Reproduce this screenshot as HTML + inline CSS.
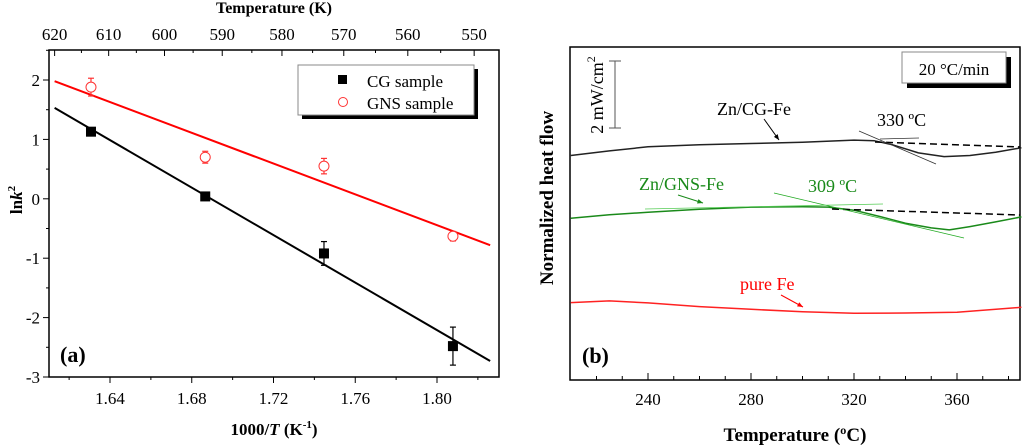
<!DOCTYPE html>
<html><head><meta charset="utf-8"><style>
body{margin:0;background:#fff;}
svg{display:block;font-family:"Liberation Serif",serif;}
</style></head><body>
<svg id="s" width="1024" height="445" viewBox="0 0 1024 445" xmlns="http://www.w3.org/2000/svg">
<g id="L"></g>
<g id="R"></g>
</svg>
<script>
// Panel (a) data
const xA = [1.6307, 1.6866, 1.7447, 1.8078];
const cgVals = [1.13, 0.04, -0.92, -2.48];
const cgErr = [0.06, 0.05, 0.2, 0.32];
const gnsVals = [1.88, 0.70, 0.55, -0.63];
const gnsErr = [0.15, 0.1, 0.13, 0.08];
const cgFitX = [1.6129, 1.826];
const cgFitY = [1.53, -2.73];
const gnsFitX = [1.6129, 1.826];
const gnsFitY = [1.98, -0.78];
const xTicksA = [1.64, 1.68, 1.72, 1.76, 1.80];
const yTicksA = [2, 1, 0, -1, -2, -3];
const topTicksK = [620, 610, 600, 590, 580, 570, 560, 550];
// Panel (b) data
const tempTicks = [240, 280, 320, 360];
const cgT = [210, 225, 240, 260, 280, 300, 320, 328, 335, 345, 355, 365, 375, 385];
const cgHF = [6.70, 6.84, 6.96, 7.02, 7.06, 7.10, 7.16, 7.14, 7.02, 6.78, 6.67, 6.70, 6.80, 6.93];
const gnsT = [210, 225, 240, 260, 280, 300, 310, 320, 330, 340, 350, 357, 365, 375, 385];
const gnsHF = [4.83, 4.93, 5.01, 5.10, 5.16, 5.17, 5.16, 5.07, 4.88, 4.68, 4.54, 4.48, 4.58, 4.72, 4.87];
const feT = [210, 225, 240, 260, 280, 300, 320, 340, 360, 385];
const feHF = [2.31, 2.36, 2.30, 2.19, 2.11, 2.04, 1.99, 2.00, 2.02, 2.17];

const NS = "http://www.w3.org/2000/svg";
function mk(parent, tag, attrs, text){
  const e = document.createElementNS(NS, tag);
  for (const k in attrs) e.setAttribute(k, attrs[k]);
  if (text !== undefined) e.textContent = text;
  parent.appendChild(e);
  return e;
}
const L = document.getElementById('L'), R = document.getElementById('R');

// ---------- panel a ----------
const ax = v => 110 + (v - 1.64) * 2043.75;
const ay = v => 80 + (2 - v) * 59.4;
let f = mk(L,'rect',{x:49,y:50,width:450,height:327,fill:'none',stroke:'#000','stroke-width':1.5});
 
for (let v = 1.62; v <= 1.8301; v += 0.02) {
  const major = xTicksA.some(t => Math.abs(t - v) < 1e-6);
  mk(L,'line',{x1:ax(v),x2:ax(v),y1:377,y2:377+(major?6:3),stroke:'#000','stroke-width':1});
}
xTicksA.forEach(t => {
  const e = mk(L,'text',{x:ax(t),y:404,'text-anchor':'middle','font-size':17}, t.toFixed(2));
   
});
for (let v = 2.5; v >= -3; v -= 0.5) {
  const major = Math.abs(v - Math.round(v)) < 1e-6;
  mk(L,'line',{x1:49,x2:49-(major?6:3),y1:ay(v),y2:ay(v),stroke:'#000','stroke-width':1});
}
yTicksA.forEach(t => {
  const e = mk(L,'text',{x:40,y:ay(t)+6,'text-anchor':'end','font-size':17}, String(t));
   
});
for (let k = 620; k >= 550; k -= 5) {
  const major = k % 10 === 0;
  const x = ax(1000 / k);
  mk(L,'line',{x1:x,x2:x,y1:50,y2:50+(major?6:3),stroke:'#000','stroke-width':1});
}
topTicksK.forEach(k => {
  const e = mk(L,'text',{x:ax(1000/k),y:40,'text-anchor':'middle','font-size':17}, String(k));
   
});
let t1 = mk(L,'text',{x:274,y:13,'text-anchor':'middle','font-size':16,'font-weight':'bold'},'Temperature (K)');
 
let t2 = mk(L,'text',{x:274,y:435,'text-anchor':'middle','font-size':17,'font-weight':'bold'});
 
t2.innerHTML = '1000/<tspan font-style="italic">T</tspan> (K<tspan dy="-7" font-size="11">-1</tspan><tspan dy="7">)</tspan>';
let t3 = mk(L,'text',{transform:'translate(22,200) rotate(-90)','text-anchor':'middle','font-size':17,'font-weight':'bold'});
 
t3.innerHTML = 'ln<tspan font-style="italic">k</tspan><tspan dy="-7" font-size="11">2</tspan>';
let fr = mk(L,'line',{x1:ax(gnsFitX[0]),y1:ay(gnsFitY[0]),x2:ax(gnsFitX[1]),y2:ay(gnsFitY[1]),stroke:'#f00','stroke-width':2});
 
let fb = mk(L,'line',{x1:ax(cgFitX[0]),y1:ay(cgFitY[0]),x2:ax(cgFitX[1]),y2:ay(cgFitY[1]),stroke:'#000','stroke-width':2});
 
function errbar(x, v, e, col){
  const g = mk(L,'g',{stroke:col,'stroke-width':1.2});
  mk(g,'line',{x1:x,x2:x,y1:ay(v+e),y2:ay(v-e)});
  mk(g,'line',{x1:x-3,x2:x+3,y1:ay(v+e),y2:ay(v+e)});
  mk(g,'line',{x1:x-3,x2:x+3,y1:ay(v-e),y2:ay(v-e)});
  return g;
}
xA.forEach((xv, i) => {
  const x = ax(xv);
  const eb = errbar(x, cgVals[i], cgErr[i], '#000');
   
  const m = mk(L,'rect',{x:x-5,y:ay(cgVals[i])-5,width:10,height:10,fill:'#000'});
   
  const eb2 = errbar(x, gnsVals[i], gnsErr[i], '#f33');
   
  const c = mk(L,'circle',{cx:x,cy:ay(gnsVals[i]),r:5,fill:'#fff',stroke:'#f33','stroke-width':1});
   
});
let lg = mk(L,'g',{});
 
mk(lg,'rect',{x:302,y:69,width:176,height:50,fill:'#000'});
mk(lg,'rect',{x:298,y:65,width:176,height:50,fill:'#fff',stroke:'#888','stroke-width':1});
mk(lg,'rect',{x:338,y:75,width:9,height:9,fill:'#000'});
let le1 = mk(lg,'text',{x:367,y:87,'font-size':17},'CG sample');
 
mk(lg,'circle',{cx:343,cy:102,r:4.5,fill:'none',stroke:'#f33','stroke-width':1});
let le2 = mk(lg,'text',{x:367,y:109,'font-size':17},'GNS sample');
 
let pa = mk(L,'text',{x:60,y:362,'font-size':22,'font-weight':'bold'},'(a)');
 

// ---------- panel b ----------
const bx = T => 648 + (T - 240) * 2.575;
const by = v => 380 - v * 33.5;
let fb2 = mk(R,'rect',{x:570,y:47,width:450,height:333,fill:'none',stroke:'#000','stroke-width':1.5});
 
for (let T = 220; T <= 380; T += 10) {
  const major = tempTicks.includes(T);
  mk(R,'line',{x1:bx(T),x2:bx(T),y1:380,y2:380-(major?7:4),stroke:'#000','stroke-width':1});
}
tempTicks.forEach(t => {
  const e = mk(R,'text',{x:bx(t),y:405,'text-anchor':'middle','font-size':17},String(t));
   
});
let bt = mk(R,'text',{x:795,y:441,'text-anchor':'middle','font-size':19,'font-weight':'bold'},'Temperature (ºC)');
 
let byt = mk(R,'text',{transform:'translate(553,198) rotate(-90)','text-anchor':'middle','font-size':19,'font-weight':'bold'},'Normalized heat flow');
 
function curve(Ts, Vs, col, name){
  const d = Ts.map((t,i)=>(i?'L':'M')+bx(t).toFixed(1)+','+by(Vs[i]).toFixed(1)).join(' ');
  const p = mk(R,'path',{d:d,fill:'none',stroke:col,'stroke-width':1.5,'stroke-linejoin':'round'});
   
}
curve(cgT, cgHF, '#222', 'zn-cg-fe-curve');
curve(gnsT, gnsHF, '#1a8a1a', 'zn-gns-fe-curve');
curve(feT, feHF, '#f22', 'pure-fe-curve');
mk(R,'line',{x1:875,y1:142,x2:1020,y2:147,stroke:'#000','stroke-width':1.5,'stroke-dasharray':'7,4'});
mk(R,'line',{x1:832,y1:209,x2:1020,y2:215,stroke:'#000','stroke-width':1.5,'stroke-dasharray':'7,4'});
mk(R,'line',{x1:859,y1:131,x2:936,y2:164,stroke:'#333','stroke-width':0.8});
mk(R,'line',{x1:880,y1:139,x2:919,y2:138,stroke:'#333','stroke-width':0.8});
mk(R,'line',{x1:774,y1:193,x2:964,y2:238,stroke:'#2a2','stroke-width':0.8});
mk(R,'line',{x1:645,y1:209,x2:883,y2:204,stroke:'#5c5','stroke-width':0.8});
function lbl(x,y,txt,col,name){
  const e = mk(R,'text',{x:x,y:y,'font-size':18,fill:col},txt);
   
}
lbl(717,115,'Zn/CG-Fe','#000','label-zn-cg-fe');
lbl(877,126,'330 ºC','#000','label-330c');
lbl(639,190,'Zn/GNS-Fe','#1a8a1a','label-zn-gns-fe');
lbl(808,192,'309 ºC','#1a8a1a','label-309c');
lbl(740,290,'pure Fe','#f00','label-pure-fe');
function arrow(x1,y1,x2,y2,col){
  mk(R,'line',{x1:x1,y1:y1,x2:x2,y2:y2,stroke:col,'stroke-width':1});
  const a = Math.atan2(y2-y1,x2-x1), s=6;
  mk(R,'path',{d:`M${x2},${y2} L${x2-s*Math.cos(a-0.4)},${y2-s*Math.sin(a-0.4)} L${x2-s*Math.cos(a+0.4)},${y2-s*Math.sin(a+0.4)} Z`,fill:col});
}
arrow(764,119,779,140,'#000');
arrow(678,195,703,203,'#1a8a1a');
arrow(781,295,803,307,'#f00');
let sb = mk(R,'g',{stroke:'#555','stroke-width':1});
 
mk(sb,'line',{x1:615,x2:615,y1:61,y2:128});
mk(sb,'line',{x1:609,x2:621,y1:61,y2:61});
mk(sb,'line',{x1:609,x2:621,y1:128,y2:128});
let st = mk(R,'text',{transform:'translate(603,95) rotate(-90)','text-anchor':'middle','font-size':18});
 
st.innerHTML = '2 mW/cm<tspan dy="-8" font-size="12">2</tspan>';
let rb = mk(R,'g',{});
 
mk(rb,'rect',{x:907,y:57,width:104,height:31,fill:'#000'});
mk(rb,'rect',{x:902,y:52,width:104,height:31,fill:'#fff',stroke:'#888','stroke-width':1});
mk(rb,'text',{x:954,y:75,'text-anchor':'middle','font-size':17},'20 °C/min');
let pb = mk(R,'text',{x:582,y:363,'font-size':22,'font-weight':'bold'},'(b)');
 
</script>
</body></html>
